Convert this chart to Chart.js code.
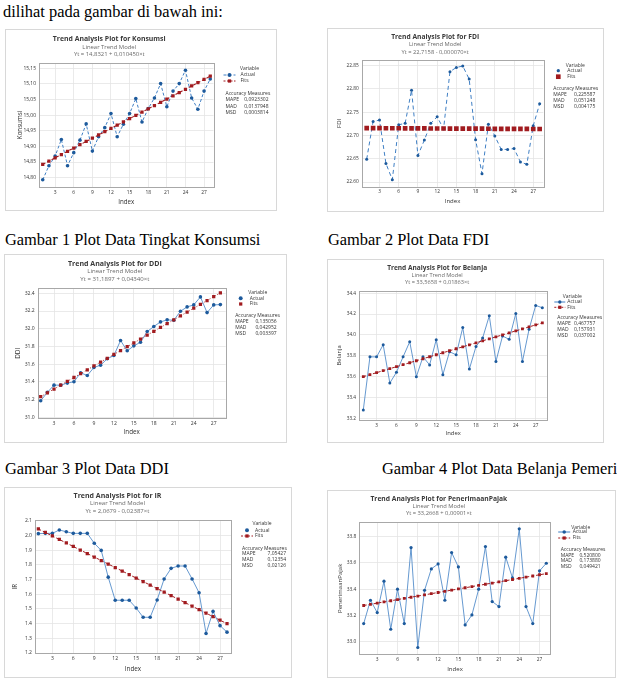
<!DOCTYPE html>
<html><head><meta charset="utf-8">
<script src="https://cdn.jsdelivr.net/npm/chart.js@4.4.1/dist/chart.umd.min.js"></script>
<style>
html,body{margin:0;padding:0;background:#fff;overflow:hidden;width:617px;height:690px;position:relative;}
.txt{position:absolute;font-family:'Liberation Serif','Times New Roman',serif;font-size:16.4px;line-height:17px;color:#000;white-space:nowrap;}
.box{position:absolute;border:1px solid #d8d8d8;box-sizing:border-box;background:#fff;}
canvas{position:absolute;}
</style></head><body>
<div class="txt" style="left:3px;top:2.5px">dilihat pada gambar di bawah ini:</div>
<div class="txt" style="left:5px;top:230.5px">Gambar 1 Plot Data Tingkat Konsumsi</div>
<div class="txt" style="left:328px;top:230.5px">Gambar 2 Plot Data FDI</div>
<div class="txt" style="left:5px;top:460px">Gambar 3 Plot Data DDI</div>
<div class="txt" style="left:382px;top:460px">Gambar 4 Plot Data Belanja Pemerintah</div>
<script>
// ---------- data ----------
const index = [1,2,3,4,5,6,7,8,9,10,11,12,13,14,15,16,17,18,19,20,21,22,23,24,25,26,27,28];
const xTicks = [3,6,9,12,15,18,21,24,27];

const konsumsiActual = [14.793,14.838,14.869,14.922,14.838,14.880,14.920,14.972,14.885,14.931,14.960,15.005,14.931,14.971,15.005,15.053,14.978,15.021,15.055,15.101,15.027,15.077,15.101,15.144,15.055,15.019,15.077,15.116];
const konsumsiFits = [14.8426,14.8530,14.8635,14.8739,14.8844,14.8948,14.9053,14.9157,14.9262,14.9366,14.9471,14.9575,14.9680,14.9784,14.9889,14.9993,15.0098,15.0202,15.0307,15.0411,15.0516,15.0620,15.0725,15.0829,15.0934,15.1038,15.1143,15.1247];
const konsumsiYTicks = [14.80,14.85,14.90,14.95,15.00,15.05,15.10,15.15];
const konsumsiAcc = ['0,0923302','0,0137948','0,0003814'];

const fdiActual = [22.649,22.730,22.733,22.640,22.605,22.723,22.726,22.797,22.657,22.690,22.726,22.740,22.714,22.837,22.846,22.849,22.821,22.691,22.618,22.724,22.699,22.670,22.670,22.672,22.643,22.638,22.721,22.768];
const fdiFits = [22.7157,22.7157,22.7156,22.7155,22.7155,22.7154,22.7153,22.7152,22.7152,22.7151,22.7150,22.7150,22.7149,22.7148,22.7148,22.7147,22.7146,22.7145,22.7145,22.7144,22.7143,22.7143,22.7142,22.7141,22.7141,22.7140,22.7139,22.7138];
const fdiYTicks = [22.60,22.65,22.70,22.75,22.80,22.85];
const fdiAcc = ['0,225587','0,051248','0,004175'];

const ddiActual = [31.188,31.282,31.364,31.364,31.387,31.402,31.503,31.473,31.563,31.589,31.661,31.698,31.867,31.751,31.807,31.848,31.968,32.025,32.077,32.100,32.096,32.197,32.246,32.269,32.359,32.182,32.269,32.272];
const ddiFits = [31.2331,31.2765,31.3199,31.3633,31.4067,31.4501,31.4935,31.5369,31.5803,31.6237,31.6671,31.7105,31.7539,31.7973,31.8407,31.8841,31.9275,31.9709,32.0143,32.0577,32.1011,32.1445,32.1879,32.2313,32.2747,32.3181,32.3615,32.4049];
const ddiYTicks = [31.0,31.2,31.4,31.6,31.8,32.0,32.2,32.4];
const ddiAcc = ['0,135056','0,042952','0,003397'];

const belanjaActual = [33.281,33.790,33.790,33.906,33.539,33.642,33.790,33.935,33.600,33.790,33.713,33.955,33.619,33.839,33.810,34.071,33.674,33.890,33.971,34.184,33.745,33.990,33.958,34.206,33.745,34.055,34.284,34.261];
const belanjaFits = [33.6001,33.6192,33.6383,33.6574,33.6765,33.6956,33.7147,33.7338,33.7529,33.7720,33.7911,33.8102,33.8293,33.8484,33.8675,33.8866,33.9057,33.9248,33.9439,33.9630,33.9821,34.0012,34.0203,34.0394,34.0585,34.0776,34.0967,34.1158];
const belanjaYTicks = [33.2,33.4,33.6,33.8,34.0,34.2,34.4];
const belanjaAcc = ['0,467757','0,157931','0,037002'];

const irActual = [2.012,2.014,2.014,2.037,2.025,2.014,2.014,2.014,1.947,1.898,1.716,1.559,1.559,1.559,1.506,1.443,1.443,1.561,1.704,1.776,1.792,1.792,1.704,1.610,1.333,1.483,1.386,1.342];
const irFits = [2.0440,2.0202,1.9963,1.9724,1.9486,1.9247,1.9008,1.8769,1.8531,1.8292,1.8053,1.7815,1.7576,1.7337,1.7099,1.6860,1.6621,1.6383,1.6144,1.5905,1.5666,1.5428,1.5189,1.4950,1.4712,1.4473,1.4234,1.3996];
const irYTicks = [1.2,1.3,1.4,1.5,1.6,1.7,1.8,1.9,2.0,2.1];
const irAcc = ['7,05427','0,12354','0,02126'];

const pajakActual = [33.138,33.316,33.222,33.461,33.095,33.400,33.138,33.717,32.956,33.392,33.555,33.593,33.316,33.679,33.570,33.128,33.204,33.400,33.725,33.306,33.268,33.644,33.486,33.860,33.268,33.138,33.540,33.598];
const pajakFits = [33.276,33.285,33.294,33.303,33.312,33.321,33.330,33.339,33.348,33.357,33.366,33.375,33.384,33.393,33.402,33.411,33.420,33.429,33.438,33.447,33.456,33.465,33.474,33.483,33.492,33.501,33.510,33.519];
const pajakYTicks = [33.0,33.2,33.4,33.6,33.8];
const pajakAcc = ['0,520800','0,173880','0,049421'];

// ---------- rendering ----------
const FAMILY = "'Open Sans'";
Chart.defaults.font.family = "'Open Sans', 'Noto Sans', sans-serif";
Chart.defaults.color = '#333';
const BLUE_LINE = '#3f7fc4', BLUE_MARK = '#1d5a9c', RED = '#a11b1f';
const mctx = document.createElement('canvas').getContext('2d');
function fitSize(text, weight, target){ mctx.font = weight + ' 100px ' + FAMILY; return 100*target/mctx.measureText(text).width; }

const frame = {
  id:'frame',
  beforeDatasetsDraw(ch){
    const a = ch.chartArea, c = ch.ctx;
    c.save(); c.strokeStyle = '#a8a8a8'; c.lineWidth = 1;
    c.strokeRect(Math.round(a.left)+0.5, Math.round(a.top)+0.5, Math.round(a.right-a.left), Math.round(a.bottom-a.top));
    c.restore();
  }
};

function makeChart(s){
  const [bl,bt,bw,bh] = s.box;
  const [al,at,ar,ab] = s.area;
  const d = document.createElement('div'); d.className='box';
  Object.assign(d.style,{left:bl+'px',top:bt+'px',width:bw+'px',height:bh+'px'});
  document.body.appendChild(d);
  const c = document.createElement('canvas'); c.width=bw; c.height=bh;
  Object.assign(c.style,{left:bl+'px',top:bt+'px',width:bw+'px',height:bh+'px'});
  document.body.appendChild(c);

  const f1 = fitSize(s.title,'bold',s.titleW);
  const f2 = f1*0.86;
  const [ty,s1y,s2y] = s.titleY.map(v=>v-bt);
  const tPadTop = ty - f1/2;
  const L = s2y - s1y;
  const titleH = tPadTop + f1;
  const sPadTop = s1y - titleH - L/2;
  const sPadBottom = (at-bt) - (titleH + sPadTop + 2*L);
  const tickF = f1*0.72, axisF = f1*0.9, axLH = axisF*1.2;
  const legF = Math.max(5, fitSize('Accuracy Measures','normal',s.leg.dx[4]-s.leg.dx[3]));
  const fmt = v => { const t = v.toFixed(s.dec); return s.comma ? t.replace('.',',') : t; };
  const st = s.style;

  const legendPlugin = {
    id:'mtbLegend',
    afterDraw(ch){
      const a = ch.chartArea, x0 = a.right, y0 = a.top, g = ch.ctx, dx = s.leg.dx, oy = s.leg.oy;
      const half = Math.min(6, dx[2]-dx[1]-2);
      g.save();
      g.font = legF + 'px ' + FAMILY; g.fillStyle = '#333'; g.textBaseline = 'middle';
      g.textAlign = 'center'; g.fillText('Variable', x0+dx[0], y0+oy[0]);
      g.textAlign = 'left';
      const ay = y0+oy[1], fy = y0+oy[2], mx = x0+dx[1];
      if (st.aLeg){ g.strokeStyle = BLUE_LINE; g.lineWidth = 1; g.setLineDash(st.aDash); g.beginPath(); g.moveTo(mx-half,ay); g.lineTo(mx+half,ay); g.stroke(); g.setLineDash([]); }
      g.fillStyle = BLUE_MARK; g.beginPath(); g.arc(mx, ay, st.aR*1.1, 0, Math.PI*2); g.fill();
      if (st.fLeg){ g.strokeStyle = RED; g.lineWidth = 1; g.setLineDash([2,1.5]); g.beginPath(); g.moveTo(mx-half,fy); g.lineTo(mx+half,fy); g.stroke(); g.setLineDash([]); }
      g.fillStyle = RED; const q = Math.max(st.fR*1.414, 3.2); g.fillRect(mx-q/2, fy-q/2, q, q);
      g.fillStyle = '#333';
      g.fillText('Actual', x0+dx[2], ay);
      g.fillText('Fits', x0+dx[2], fy);
      g.fillText('Accuracy Measures', x0+dx[3], y0+oy[3]);
      const names = ['MAPE','MAD','MSD'];
      for (let i=0;i<3;i++){
        g.textAlign='left'; g.fillText(names[i], x0+dx[3], y0+oy[4+i]);
        g.textAlign='right'; g.fillText(s.acc[i], x0+dx[4], y0+oy[4+i]);
      }
      g.restore();
    }
  };

  new Chart(c, {
    type:'line',
    data:{ datasets:[
      { label:'Fits', order:0, data: index.map((x,i)=>({x, y:s.fits[i]})),
        borderColor:RED, borderWidth: st.fW, borderDash: st.fDash, showLine: st.fLine,
        pointStyle:'rect', pointRadius: st.fR, pointBackgroundColor:RED, pointBorderWidth:0, pointHoverRadius: st.fR },
      { label:'Actual', order:1, data: index.map((x,i)=>({x, y:s.actual[i]})),
        borderColor:BLUE_LINE, borderWidth: st.aW, borderDash: st.aDash,
        pointStyle:'circle', pointRadius: st.aR, pointBackgroundColor:BLUE_MARK, pointBorderWidth:0, pointHoverRadius: st.aR }
    ]},
    options:{
      responsive:false, animation:false, events:[],
      layout:{ padding:{ left:0, top:0, bottom:0, right: bw-(ar-bl) } },
      plugins:{
        legend:{display:false}, tooltip:{enabled:false},
        title:{ display:true, text:s.title, color:'#3a3a3a', font:{size:f1, weight:'bold', lineHeight:1}, padding:{top:tPadTop, bottom:0} },
        subtitle:{ display:true, text:[s.sub, s.eq], color:'#6a6a6a', font:{size:f2, lineHeight:L/f2}, padding:{top:sPadTop, bottom:sPadBottom} }
      },
      scales:{
        x:{ type:'linear', min:s.xMin, max:s.xMax,
            afterBuildTicks: sc => { sc.ticks = xTicks.map(v=>({value:v})); },
            afterFit: sc => { sc.height = bt+bh-ab; },
            grid:{ color:'#e4e4e4', lineWidth:0.8, drawTicks:false },
            border:{ display:false },
            ticks:{ font:{size:tickF}, color:'#333', padding:2.5, autoSkip:false, maxRotation:0 },
            title:{ display:true, text:'Index', color:'#333', font:{size:axisF}, padding:{top:0, bottom: bh-(s.xTitleY-bt)-axLH/2} } },
        y:{ type:'linear', min:s.yMin, max:s.yMax,
            afterBuildTicks: sc => { sc.ticks = s.yTicks.map(v=>({value:v})); },
            afterFit: sc => { sc.width = al-bl; },
            grid:{ color:'#e4e4e4', lineWidth:0.8, drawTicks:false },
            border:{ display:false },
            ticks:{ font:{size:tickF}, color:'#333', padding:3, callback: v => fmt(v) },
            title:{ display:true, text:s.yLabel, color:'#333', font:{size:axisF}, padding:{top: s.yTitleX-bl-axLH/2, bottom:0} } }
      }
    },
    plugins:[frame, legendPlugin]
  });
}

makeChart({ box:[5,29,272,182], area:[39,63,213.5,187],
  title:'Trend Analysis Plot for Konsumsi', sub:'Linear Trend Model', eq:'Yt = 14,8321 + 0,010450×t',
  titleW:113, titleY:[39,47,54.5], xTitleY:202, yTitleX:20, yLabel:'Konsumsi',
  xMin:0.4, xMax:28.52, yMin:14.770, yMax:15.167, yTicks:konsumsiYTicks, dec:2, comma:true,
  actual:konsumsiActual, fits:konsumsiFits, acc:konsumsiAcc,
  style:{aDash:[3,2], aW:1, aR:1.8, fDash:[3,2], fW:1.1, fR:2.3, fLine:true, aLeg:true, fLeg:true},
  leg:{dx:[36,16,27,12,55], oy:[6,12,18,31,37,44,50]} });

makeChart({ box:[327,28,277,184], area:[361.7,60,543.3,186.7],
  title:'Trend Analysis Plot for FDI', sub:'Linear Trend Model', eq:'Yt = 22,7158 - 0,000070×t',
  titleW:88, titleY:[36.7,44,52.3], xTitleY:201.7, yTitleX:339.3, yLabel:'FDI',
  xMin:0.22, xMax:28.57, yMin:22.590, yMax:22.862, yTicks:fdiYTicks, dec:2, comma:false,
  actual:fdiActual, fits:fdiFits, acc:fdiAcc,
  style:{aDash:[4,3], aW:1, aR:1.5, fDash:[], fW:1, fR:3.3, fLine:false, aLeg:false, fLeg:false},
  leg:{dx:[32,15,24,10,52], oy:[5.7,10.7,16.7,29,35,41,47]} });

makeChart({ box:[4,254,283,189], area:[37.7,288.3,225.7,418.3],
  title:'Trend Analysis Plot for DDI', sub:'Linear Trend Model', eq:'Yt = 31,1897 + 0,04340×t',
  titleW:94, titleY:[264,271.7,279], xTitleY:432.7, yTitleX:18.3, yLabel:'DDI',
  xMin:0.55, xMax:28.8, yMin:30.99, yMax:32.456, yTicks:ddiYTicks, dec:1, comma:false,
  actual:ddiActual, fits:ddiFits, acc:ddiAcc,
  style:{aDash:[], aW:0.8, aR:1.8, fDash:[1,2], fW:0.9, fR:2.3, fLine:true, aLeg:false, fLeg:false},
  leg:{dx:[32,15,24,9.5,51], oy:[4.4,10,15.7,27.7,33,39,45.4]} });

makeChart({ box:[327,259,277,184], area:[359,290.7,547.3,420],
  title:'Trend Analysis Plot for Belanja', sub:'Linear Trend Model', eq:'Yt = 33,5658 + 0,01863×t',
  titleW:100, titleY:[268.3,275,282.7], xTitleY:433.3, yTitleX:339.3, yLabel:'Belanja',
  xMin:0.35, xMax:28.75, yMin:33.184, yMax:34.425, yTicks:belanjaYTicks, dec:1, comma:false,
  actual:belanjaActual, fits:belanjaFits, acc:belanjaAcc,
  style:{aDash:[], aW:0.8, aR:1.5, fDash:[3,2], fW:1, fR:2, fLine:true, aLeg:true, fLeg:true},
  leg:{dx:[25,12.5,20,10,48], oy:[6,11.3,16.6,27,32.6,38.6,45]} });

makeChart({ box:[4,487,288,191], area:[35,520,231,653.3],
  title:'Trend Analysis Plot for IR', sub:'Linear Trend Model', eq:'Yt = 2,0679 - 0,02387×t',
  titleW:88, titleY:[496,503.7,511.3], xTitleY:669, yTitleX:15.7, yLabel:'IR',
  xMin:0.52, xMax:28.57, yMin:1.198, yMax:2.105, yTicks:irYTicks, dec:1, comma:false,
  actual:irActual, fits:irFits, acc:irAcc,
  style:{aDash:[], aW:0.8, aR:1.8, fDash:[3,2], fW:1, fR:2.3, fLine:true, aLeg:false, fLeg:true},
  leg:{dx:[31,16,24,11,55], oy:[4,10.3,16,28.3,33.7,39.3,45.3]} });

makeChart({ box:[327,490,289,188], area:[359.3,522.3,550.7,654.3],
  title:'Trend Analysis Plot for PenerimaanPajak', sub:'Linear Trend Model', eq:'Yt = 33,2668 + 0,00901×t',
  titleW:137, titleY:[499.3,506.7,513.3], xTitleY:669, yTitleX:340.7, yLabel:'PenerimaanPajak',
  xMin:0.35, xMax:28.65, yMin:32.904, yMax:33.91, yTicks:pajakYTicks, dec:1, comma:false,
  actual:pajakActual, fits:pajakFits, acc:pajakAcc,
  style:{aDash:[], aW:0.8, aR:1.6, fDash:[3,2], fW:1, fR:2, fLine:true, aLeg:true, fLeg:true},
  leg:{dx:[30,13.5,22,10,50], oy:[5,9.7,15.7,27.7,33,38.7,44.4]} });
</script>
</body></html>
